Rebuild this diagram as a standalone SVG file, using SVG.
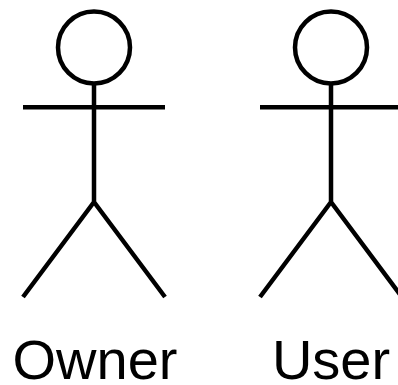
<svg xmlns="http://www.w3.org/2000/svg" width="398" height="385" viewBox="0 0 398 385"><style>.a{fill:none;stroke:#000;stroke-width:4.5;stroke-linecap:butt}.t{font-family:"Liberation Sans",Arial,sans-serif;font-size:56px;fill:#000;text-anchor:middle}</style><rect width="398" height="385" fill="#fff"/><g id="owner"><circle class="a" cx="94" cy="47.5" r="36"/><path class="a" d="M94 83.5V202M23 107.3H165M94 202L23 297M94 202L165 297"/><text class="t" x="95" y="379">Owner</text></g><g id="user"><circle class="a" cx="331" cy="47.5" r="36"/><path class="a" d="M331 83.5V202M260 107.3H398M331 202L260 297M331 202L402 297"/><text class="t" x="331" y="379">User</text></g><g id="connectors"/></svg>
